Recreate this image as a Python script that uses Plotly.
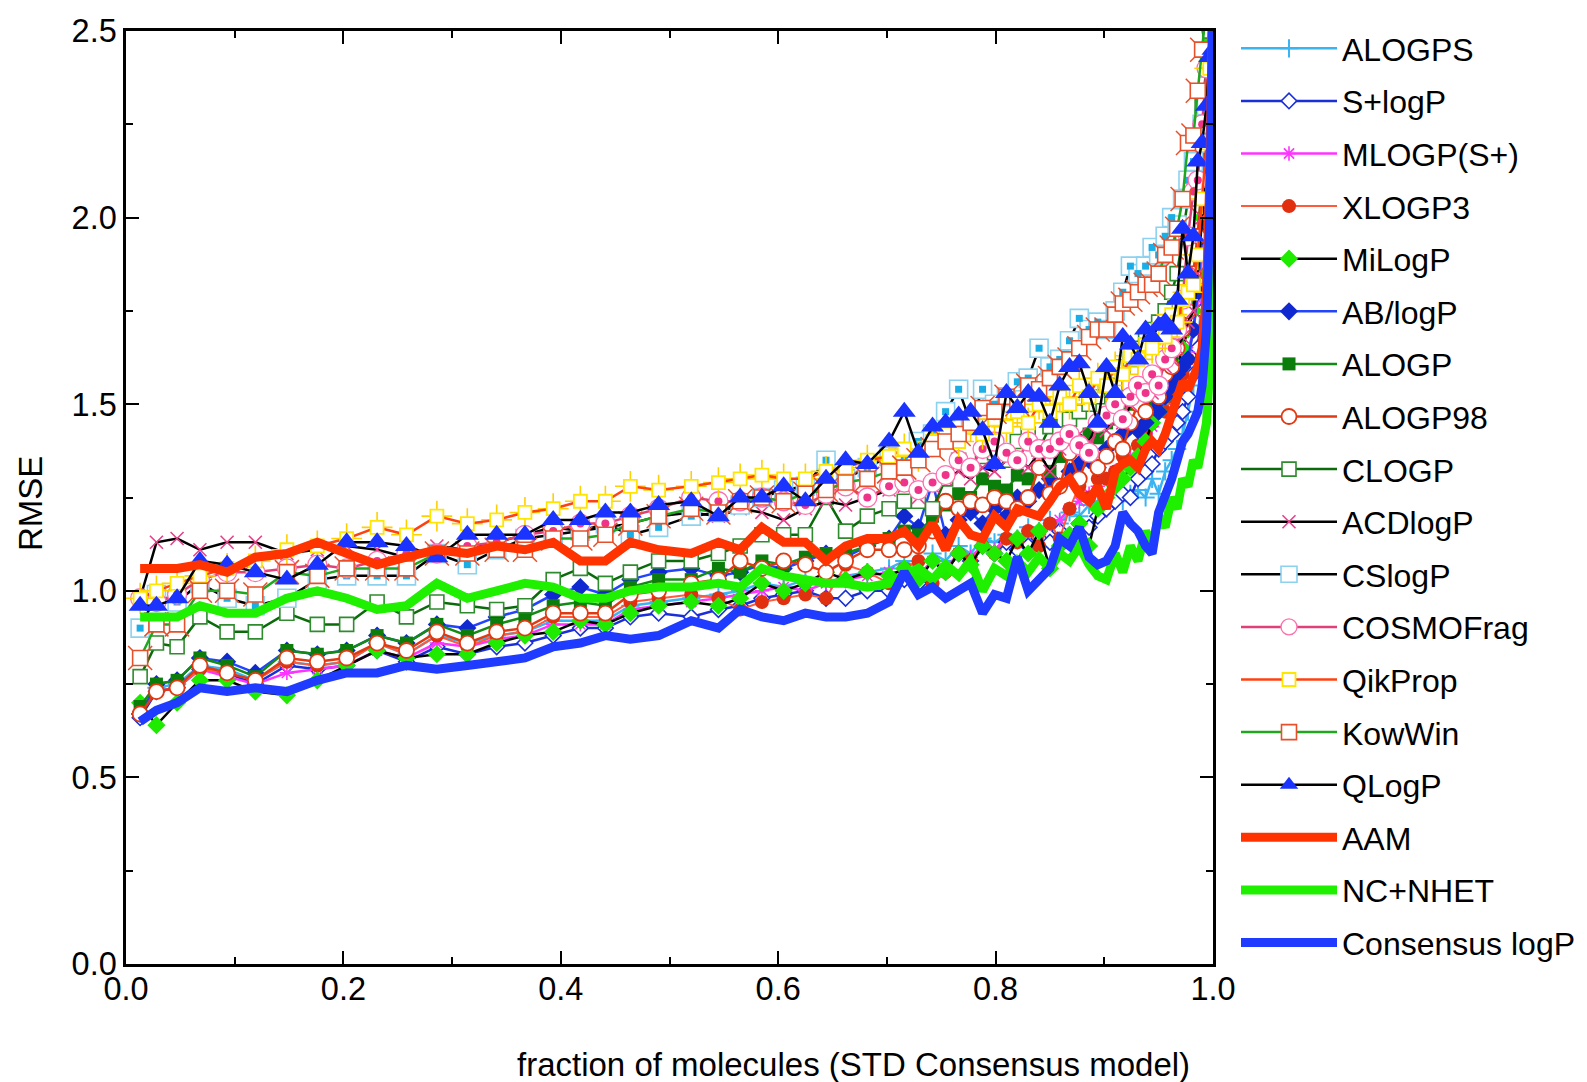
import plotly.graph_objects as go

# ---------------- data ----------------
X = [0.013, 0.028, 0.047, 0.068, 0.093, 0.119, 0.148, 0.176, 0.203, 0.231, 0.258, 0.286, 0.314, 0.341, 0.367, 0.393, 0.418, 0.441,
     0.464, 0.490, 0.520, 0.545, 0.565, 0.585, 0.605, 0.625, 0.644, 0.662, 0.682, 0.702,
     0.716, 0.729, 0.742, 0.754, 0.766, 0.777, 0.788, 0.799, 0.810, 0.820, 0.830, 0.840, 0.850, 0.859, 0.868, 0.877, 0.886, 0.894, 0.902,
     0.910, 0.917, 0.924, 0.931, 0.938, 0.944, 0.950, 0.956, 0.962, 0.967, 0.972, 0.977, 0.982, 0.986, 0.990, 0.994, 0.997, 1.000]

ALOGPS = [0.67, 0.74, 0.75, 0.80, 0.79, 0.76, 0.81, 0.80, 0.81, 0.86, 0.83, 0.88, 0.86, 0.88, 0.89, 0.92, 0.92, 0.92,
          0.96, 0.97, 0.98, 0.99, 1.00, 1.02, 1.01, 1.03, 1.02, 1.04, 1.05, 1.06,
          1.08, 1.06, 1.10, 1.08, 1.12, 1.10, 1.14, 1.13, 1.15, 1.14, 1.17, 1.16, 1.19, 1.18, 1.21, 1.20, 1.23, 1.24, 1.22,
          1.25, 1.24, 1.26, 1.27, 1.25, 1.30, 1.26, 1.32, 1.35, 1.38, 1.42, 1.48, 1.55, 1.65, 1.80, 1.95, 2.16, 2.40]
SPLUS_LOGP = [0.66, 0.73, 0.74, 0.79, 0.78, 0.75, 0.80, 0.79, 0.80, 0.84, 0.81, 0.85, 0.83, 0.85, 0.86, 0.88, 0.90, 0.90,
              0.93, 0.94, 0.93, 0.95, 0.96, 0.98, 0.99, 1.00, 0.98, 0.98, 1.00, 1.00,
              1.03, 1.02, 1.06, 1.05, 1.10, 1.08, 1.12, 1.10, 1.13, 1.11, 1.12, 1.14, 1.13, 1.16, 1.15, 1.18, 1.17, 1.20, 1.22,
              1.24, 1.26, 1.25, 1.30, 1.32, 1.34, 1.38, 1.40, 1.42, 1.45, 1.48, 1.52, 1.58, 1.65, 1.75, 1.90, 2.10, 2.40]
MLOGP = [0.68, 0.73, 0.74, 0.79, 0.77, 0.75, 0.78, 0.79, 0.80, 0.84, 0.82, 0.86, 0.85, 0.87, 0.88, 0.91, 0.91, 0.91,
         0.95, 0.96, 0.97, 0.98, 0.99, 1.00, 1.01, 1.00, 1.02, 1.03, 1.04, 1.05,
         1.05, 1.04, 1.08, 1.06, 1.10, 1.09, 1.12, 1.11, 1.14, 1.13, 1.16, 1.15, 1.18, 1.19, 1.22, 1.24, 1.26, 1.28, 1.30,
         1.32, 1.34, 1.36, 1.38, 1.42, 1.44, 1.48, 1.50, 1.55, 1.58, 1.62, 1.64, 1.70, 1.78, 1.90, 2.10, 2.35, 2.60]
XLOGP3 = [0.67, 0.73, 0.74, 0.79, 0.78, 0.76, 0.81, 0.80, 0.81, 0.86, 0.83, 0.88, 0.85, 0.88, 0.89, 0.93, 0.93, 0.93,
          0.97, 0.98, 0.99, 0.98, 0.95, 0.97, 0.98, 0.99, 0.98, 1.07, 1.05, 1.02,
          1.06, 1.08, 1.02, 1.05, 1.10, 1.08, 1.12, 1.10, 1.14, 1.13, 1.16, 1.12, 1.18, 1.14, 1.22, 1.28, 1.25, 1.30, 1.30,
          1.32, 1.36, 1.34, 1.39, 1.42, 1.45, 1.50, 1.48, 1.52, 1.55, 1.58, 1.62, 1.70, 1.80, 1.95, 2.15, 2.40, 2.70]
MILOGP = [0.70, 0.64, 0.70, 0.76, 0.76, 0.73, 0.72, 0.76, 0.80, 0.84, 0.82, 0.83, 0.83, 0.86, 0.88, 0.89, 0.92, 0.91,
          0.94, 0.96, 0.97, 0.96, 0.98, 1.02, 1.00, 1.02, 1.05, 1.03, 1.05, 1.04,
          1.06, 1.03, 1.08, 1.05, 1.10, 1.07, 1.12, 1.10, 1.08, 1.14, 1.10, 1.16, 1.06, 1.12, 1.15, 1.18, 1.12, 1.22, 1.25,
          1.28, 1.30, 1.33, 1.36, 1.40, 1.45, 1.48, 1.52, 1.56, 1.60, 1.65, 1.70, 1.75, 1.85, 2.00, 2.20, 2.47, 2.70]
AB_LOGP = [0.67, 0.75, 0.76, 0.82, 0.81, 0.78, 0.84, 0.83, 0.84, 0.88, 0.86, 0.91, 0.90, 0.93, 0.95, 0.99, 1.01, 0.99,
           1.03, 1.05, 1.06, 1.04, 1.05, 1.07, 1.06, 1.08, 1.10, 1.09, 1.12, 1.14,
           1.20, 1.17, 1.29, 1.15, 1.19, 1.21, 1.18, 1.22, 1.20, 1.25, 1.24, 1.27, 1.30, 1.28, 1.32, 1.34, 1.35, 1.33, 1.38,
           1.40, 1.42, 1.44, 1.43, 1.45, 1.50, 1.48, 1.52, 1.55, 1.58, 1.60, 1.62, 1.70, 1.80, 1.95, 2.15, 2.40, 2.70]
ALOGP = [0.69, 0.75, 0.76, 0.82, 0.80, 0.77, 0.84, 0.83, 0.84, 0.88, 0.86, 0.91, 0.88, 0.91, 0.93, 0.96, 0.97, 0.96,
         1.01, 1.03, 1.03, 1.06, 1.05, 1.08, 1.07, 1.09, 1.10, 1.10, 1.12, 1.14,
         1.16, 1.15, 1.20, 1.23, 1.26, 1.25, 1.30, 1.28, 1.27, 1.31, 1.30, 1.33, 1.32, 1.36, 1.38, 1.40, 1.42, 1.41, 1.45,
         1.46, 1.48, 1.50, 1.52, 1.50, 1.55, 1.56, 1.60, 1.62, 1.66, 1.70, 1.78, 1.85, 1.95, 2.10, 2.30, 2.50, 2.70]
ALOGP98 = [0.67, 0.73, 0.74, 0.80, 0.78, 0.76, 0.82, 0.81, 0.82, 0.86, 0.84, 0.89, 0.86, 0.89, 0.90, 0.94, 0.94, 0.94,
           0.99, 1.00, 1.02, 1.03, 1.08, 1.06, 1.08, 1.07, 1.05, 1.08, 1.11, 1.11,
           1.11, 1.12, 1.16, 1.24, 1.22, 1.24, 1.23, 1.25, 1.24, 1.22, 1.25, 1.33, 1.26, 1.28, 1.37, 1.30, 1.37, 1.33, 1.36,
           1.40, 1.38, 1.45, 1.50, 1.48, 1.55, 1.52, 1.58, 1.60, 1.65, 1.70, 1.75, 1.85, 1.95, 2.10, 2.30, 2.50, 2.70]
CLOGP = [0.77, 0.86, 0.85, 0.93, 0.89, 0.89, 0.94, 0.91, 0.91, 0.97, 0.93, 0.97, 0.96, 0.95, 0.96, 1.03, 1.06, 1.02,
         1.05, 1.08, 1.08, 1.10, 1.12, 1.15, 1.15, 1.15, 1.25, 1.16, 1.20, 1.22,
         1.24, 1.24, 1.22, 1.30, 1.35, 1.33, 1.36, 1.37, 1.35, 1.40, 1.42, 1.38, 1.44, 1.42, 1.46, 1.48, 1.50, 1.52, 1.55,
         1.55, 1.60, 1.62, 1.65, 1.68, 1.70, 1.72, 1.75, 1.80, 1.85, 1.95, 2.05, 2.15, 2.20, 2.30, 2.40, 2.50, 2.70]
ACDLOGP = [0.98, 1.13, 1.14, 1.11, 1.13, 1.13, 1.10, 1.11, 1.12, 1.11, 1.09, 1.12, 1.11, 1.13, 1.15, 1.17, 1.16, 1.17,
           1.18, 1.20, 1.21, 1.20, 1.22, 1.21, 1.19, 1.22, 1.24, 1.23, 1.25, 1.27,
           1.28, 1.25, 1.28, 1.30, 1.32, 1.30, 1.33, 1.32, 1.35, 1.36, 1.33, 1.37, 1.32, 1.38, 1.40, 1.42, 1.40, 1.45, 1.43,
           1.48, 1.45, 1.50, 1.52, 1.55, 1.53, 1.58, 1.60, 1.62, 1.65, 1.68, 1.72, 1.75, 1.85, 2.00, 2.20, 2.40, 2.60]
CSLOGP = [0.90, 0.99, 0.97, 1.02, 0.98, 0.96, 0.98, 1.03, 1.04, 1.04, 1.04, 1.10, 1.07, 1.11, 1.14, 1.15, 1.16, 1.18,
          1.15, 1.17, 1.20, 1.21, 1.23, 1.25, 1.27, 1.28, 1.35, 1.30, 1.33, 1.36,
          1.36, 1.40, 1.42, 1.48, 1.54, 1.45, 1.54, 1.50, 1.52, 1.56, 1.57, 1.65, 1.60, 1.62, 1.67, 1.73, 1.70, 1.72, 1.70,
          1.75, 1.80, 1.87, 1.85, 1.87, 1.92, 1.90, 1.95, 2.00, 1.98, 2.05, 2.10, 2.15, 2.20, 2.25, 2.30, 2.40, 2.60]
COSMOFRAG = [0.98, 0.97, 0.99, 1.03, 1.05, 1.05, 1.06, 1.07, 1.06, 1.08, 1.10, 1.10, 1.12, 1.13, 1.15, 1.16, 1.18, 1.18,
             1.20, 1.22, 1.25, 1.24, 1.24, 1.25, 1.24, 1.23, 1.26, 1.28, 1.25, 1.28,
             1.29, 1.27, 1.29, 1.31, 1.35, 1.33, 1.38, 1.40, 1.37, 1.35, 1.40, 1.38, 1.38, 1.40, 1.42, 1.39, 1.37, 1.45, 1.47,
             1.50, 1.46, 1.52, 1.55, 1.53, 1.58, 1.55, 1.62, 1.65, 1.70, 1.78, 1.95, 2.07, 2.10, 2.25, 2.40, 2.55, 2.70]
QIKPROP = [0.98, 1.00, 1.02, 1.04, 1.06, 1.08, 1.11, 1.12, 1.14, 1.17, 1.15, 1.20, 1.18, 1.19, 1.21, 1.22, 1.24, 1.24,
           1.28, 1.27, 1.28, 1.29, 1.30, 1.31, 1.30, 1.30, 1.32, 1.33, 1.35, 1.36,
           1.38, 1.36, 1.40, 1.42, 1.40, 1.44, 1.42, 1.46, 1.44, 1.48, 1.45, 1.50, 1.48, 1.52, 1.50, 1.55, 1.52, 1.57, 1.55,
           1.60, 1.58, 1.63, 1.62, 1.66, 1.65, 1.70, 1.68, 1.74, 1.72, 1.78, 1.80, 1.82, 1.90, 2.05, 2.20, 2.40, 2.60]
KOWWIN = [0.82, 0.91, 0.91, 1.00, 1.00, 0.99, 1.05, 1.04, 1.06, 1.06, 1.06, 1.10, 1.10, 1.11, 1.11, 1.14, 1.14, 1.15,
          1.18, 1.20, 1.22, 1.21, 1.24, 1.25, 1.24, 1.26, 1.27, 1.29, 1.30, 1.32,
          1.33, 1.35, 1.38, 1.40, 1.42, 1.45, 1.49, 1.48, 1.52, 1.50, 1.55, 1.54, 1.57, 1.60, 1.62, 1.65, 1.68, 1.70, 1.70,
          1.74, 1.77, 1.78, 1.80, 1.82, 1.82, 1.85, 1.90, 1.92, 1.97, 2.05, 2.20, 2.22, 2.34, 2.45, 2.55, 2.65, 2.80]
QLOGP = [0.96, 0.96, 0.98, 1.08, 1.07, 1.05, 1.03, 1.07, 1.13, 1.13, 1.12, 1.09, 1.15, 1.15, 1.15, 1.19, 1.19, 1.21,
         1.21, 1.23, 1.24, 1.20, 1.25, 1.25, 1.28, 1.24, 1.30, 1.35, 1.34, 1.40,
         1.48, 1.37, 1.44, 1.45, 1.47, 1.48, 1.43, 1.34, 1.53, 1.49, 1.53, 1.52, 1.45, 1.55, 1.60, 1.61, 1.53, 1.45, 1.60,
         1.53, 1.68, 1.66, 1.62, 1.70, 1.68, 1.71, 1.72, 1.70, 1.78, 1.97, 1.85, 1.95, 2.15, 2.20, 2.30, 2.43, 2.45]
AAM = [1.06, 1.06, 1.06, 1.07, 1.05, 1.09, 1.10, 1.13, 1.10, 1.07, 1.09, 1.11, 1.10, 1.12, 1.11, 1.13, 1.08, 1.08,
       1.13, 1.11, 1.10, 1.13, 1.11, 1.17, 1.13, 1.13, 1.08, 1.12, 1.14, 1.14,
       1.16, 1.12, 1.18, 1.11, 1.19, 1.15, 1.14, 1.20, 1.17, 1.22, 1.21, 1.20, 1.24, 1.28, 1.30, 1.26, 1.24, 1.28, 1.22,
       1.32, 1.34, 1.35, 1.33, 1.38, 1.40, 1.38, 1.42, 1.48, 1.52, 1.56, 1.54, 1.58, 1.60, 1.65, 1.80, 2.10, 2.60]
NC_NHET = [0.93, 0.93, 0.93, 0.96, 0.94, 0.94, 0.98, 1.00, 0.98, 0.95, 0.96, 1.02, 0.98, 1.00, 1.02, 1.01, 0.98, 0.98,
           1.00, 1.01, 1.01, 1.02, 1.01, 1.06, 1.04, 1.03, 1.02, 1.02, 1.01, 1.02,
           1.04, 1.06, 1.03, 1.07, 1.04, 1.08, 1.00, 1.06, 1.04, 1.08, 1.05, 1.09, 1.06, 1.10, 1.08, 1.12, 1.07, 1.04, 1.03,
           1.10, 1.05, 1.12, 1.08, 1.16, 1.12, 1.20, 1.17, 1.25, 1.22, 1.30, 1.28, 1.35, 1.33, 1.40, 1.45, 1.60, 2.60]
CONSENSUS = [0.65, 0.68, 0.70, 0.74, 0.73, 0.74, 0.73, 0.76, 0.78, 0.78, 0.80, 0.79, 0.80, 0.81, 0.82, 0.85, 0.86, 0.88,
             0.87, 0.88, 0.92, 0.90, 0.95, 0.93, 0.92, 0.94, 0.93, 0.93, 0.94, 0.97,
             1.05, 0.99, 1.01, 0.98, 1.00, 1.02, 0.94, 0.99, 0.98, 1.09, 1.00, 1.03, 1.06, 1.14, 1.12, 1.17, 1.09, 1.07, 1.08,
             1.12, 1.21, 1.18, 1.16, 1.12, 1.10, 1.21, 1.25, 1.30, 1.35, 1.40, 1.42, 1.46, 1.48, 1.55, 1.70, 2.00, 2.60]

X_TICKS = [0.0, 0.2, 0.4, 0.6, 0.8, 1.0]
Y_TICKS = [0.0, 0.5, 1.0, 1.5, 2.0, 2.5]
X_TITLE = "fraction of molecules (STD Consensus model)"
Y_TITLE = "RMSE"

for s in [ALOGPS, SPLUS_LOGP, MLOGP, XLOGP3, MILOGP, AB_LOGP, ALOGP, ALOGP98, CLOGP, ACDLOGP,
          CSLOGP, COSMOFRAG, QIKPROP, KOWWIN, QLOGP, AAM, NC_NHET, CONSENSUS]:
    assert len(s) == len(X), len(s)

# ---------------- figure ----------------
FONT = "Liberation Sans, Arial, Helvetica, sans-serif"
W, H = 1587, 1082
ML, MR, MT, MB = 126, 374, 31, 118
PW, PH = W - ML - MR, H - MT - MB

fig = go.Figure()
rank = [0]


def series(name, y, lcol, sym, size, mcol, edge=None, ew=0, lw=2.5):
    rank[0] += 1
    fig.add_trace(go.Scatter(
        x=X, y=y, name=name, mode="lines+markers",
        line=dict(color=lcol, width=lw),
        marker=dict(symbol=sym, size=size, color=mcol,
                    line=dict(color=edge or mcol, width=ew)),
        legendgroup=name, legendrank=rank[0], hoverinfo="skip"))


def overlay(name, y, sym, size, col, ew=1.5):
    fig.add_trace(go.Scatter(
        x=X, y=y, mode="markers", showlegend=False, legendgroup=name,
        marker=dict(symbol=sym, size=size, color=col, line=dict(color=col, width=ew)),
        hoverinfo="skip"))


def thick(name, y, col):
    rank[0] += 1
    fig.add_trace(go.Scatter(
        x=X, y=y, name=name, mode="lines", line=dict(color=col, width=9),
        legendgroup=name, legendrank=rank[0], hoverinfo="skip"))


series("ALOGPS", ALOGPS, "#3AB4F2", "cross-thin-open", 13, "#3AB4F2", ew=2)
series("S+logP", SPLUS_LOGP, "#1A2FD8", "diamond", 12, "white", edge="#1A2FD8", ew=1.6)
series("MLOGP(S+)", MLOGP, "#FF33FF", "asterisk-open", 12, "#FF33FF", ew=1.6)
series("XLOGP3", XLOGP3, "#FF5A3C", "circle", 14, "#E03010", lw=2)
series("MiLogP", MILOGP, "#000000", "diamond", 14, "#1EEB00")
series("AB/logP", AB_LOGP, "#2244FF", "diamond", 14, "#1028D0")
series("ALOGP", ALOGP, "#138A13", "square", 13, "#0B7D0B")
series("ALOGP98", ALOGP98, "#E03A12", "circle", 15, "white", edge="#E03A12", ew=1.8)
series("CLOGP", CLOGP, "#0B6B0B", "square", 14, "white", edge="#2E8B2E", ew=1.6)
series("ACDlogP", ACDLOGP, "#000000", "x-thin-open", 13, "#E8408A", ew=1.6)
series("CSlogP", CSLOGP, "#000000", "square", 18, "white", edge="#8CD2F0", ew=1.6)
overlay("CSlogP", CSLOGP, "square", 7, "#1AAEE6", ew=0)
series("COSMOFrag", COSMOFRAG, "#E0407A", "circle", 19, "white", edge="#FF70B0", ew=1.3)
overlay("COSMOFrag", COSMOFRAG, "circle", 8, "#F0338A", ew=0)
overlay("QikProp", QIKPROP, "cross-thin-open", 22, "#FFD000", ew=1.6)
series("QikProp", QIKPROP, "#FF4010", "square", 13, "white", edge="#FFE600", ew=1.8)
overlay("KowWin", KOWWIN, "x-thin-open", 24, "#E6502A", ew=1.5)
series("KowWin", KOWWIN, "#1FA81F", "square", 15, "white", edge="#E6502A", ew=1.6)
series("QLogP", QLOGP, "#000000", "triangle-up", 20, "#1A33FF")
thick("AAM", AAM, "#FF3300")
thick("NC+NHET", NC_NHET, "#1EF000")
thick("Consensus logP", CONSENSUS, "#1F3BFF")

axis_common = dict(
    showline=True, linecolor="black", linewidth=2.5, mirror="ticks",
    ticks="inside", ticklen=13, tickwidth=2, tickcolor="black",
    showgrid=False, zeroline=False, tickformat=".1f",
    tickfont=dict(family=FONT, size=32.5, color="black"),
)

fig.update_layout(
    width=W, height=H, autosize=False,
    margin=dict(l=ML, r=MR, t=MT, b=MB, pad=0, autoexpand=False),
    paper_bgcolor="white", plot_bgcolor="white",
    font=dict(family=FONT, color="black"),
    showlegend=True,
    legend=dict(x=(1236 - ML) / PW, xanchor="left", y=1 + (MT - 21) / PH, yanchor="top",
                font=dict(size=32, family=FONT, color="black"),
                itemwidth=96, tracegroupgap=8.0, traceorder="grouped", maxheight=1082,
                bgcolor="rgba(255,255,255,0)", borderwidth=0),
    xaxis=dict(range=[0, 1], tickvals=X_TICKS, ticklabelstandoff=-6,
               minor=dict(dtick=0.1, tick0=0, ticklen=7, tickwidth=2, tickcolor="black", ticks="inside"),
               **axis_common),
    yaxis=dict(range=[0, 2.5], tickvals=Y_TICKS,
               minor=dict(dtick=0.25, tick0=0, ticklen=7, tickwidth=2, tickcolor="black", ticks="inside"),
               **axis_common),
    annotations=[
        dict(text=X_TITLE, xref="paper", yref="paper", x=(853 - ML) / PW, y=-(1064 - (MT + PH)) / PH,
             xanchor="center", yanchor="middle", showarrow=False,
             font=dict(family=FONT, size=33, color="black")),
        dict(text=Y_TITLE, xref="paper", yref="paper", x=-(ML - 31) / PW, y=(MT + PH - 504) / PH,
             xanchor="center", yanchor="middle", showarrow=False, textangle=-90,
             font=dict(family=FONT, size=33, color="black")),
    ],
)

fig.write_html("out.html")
